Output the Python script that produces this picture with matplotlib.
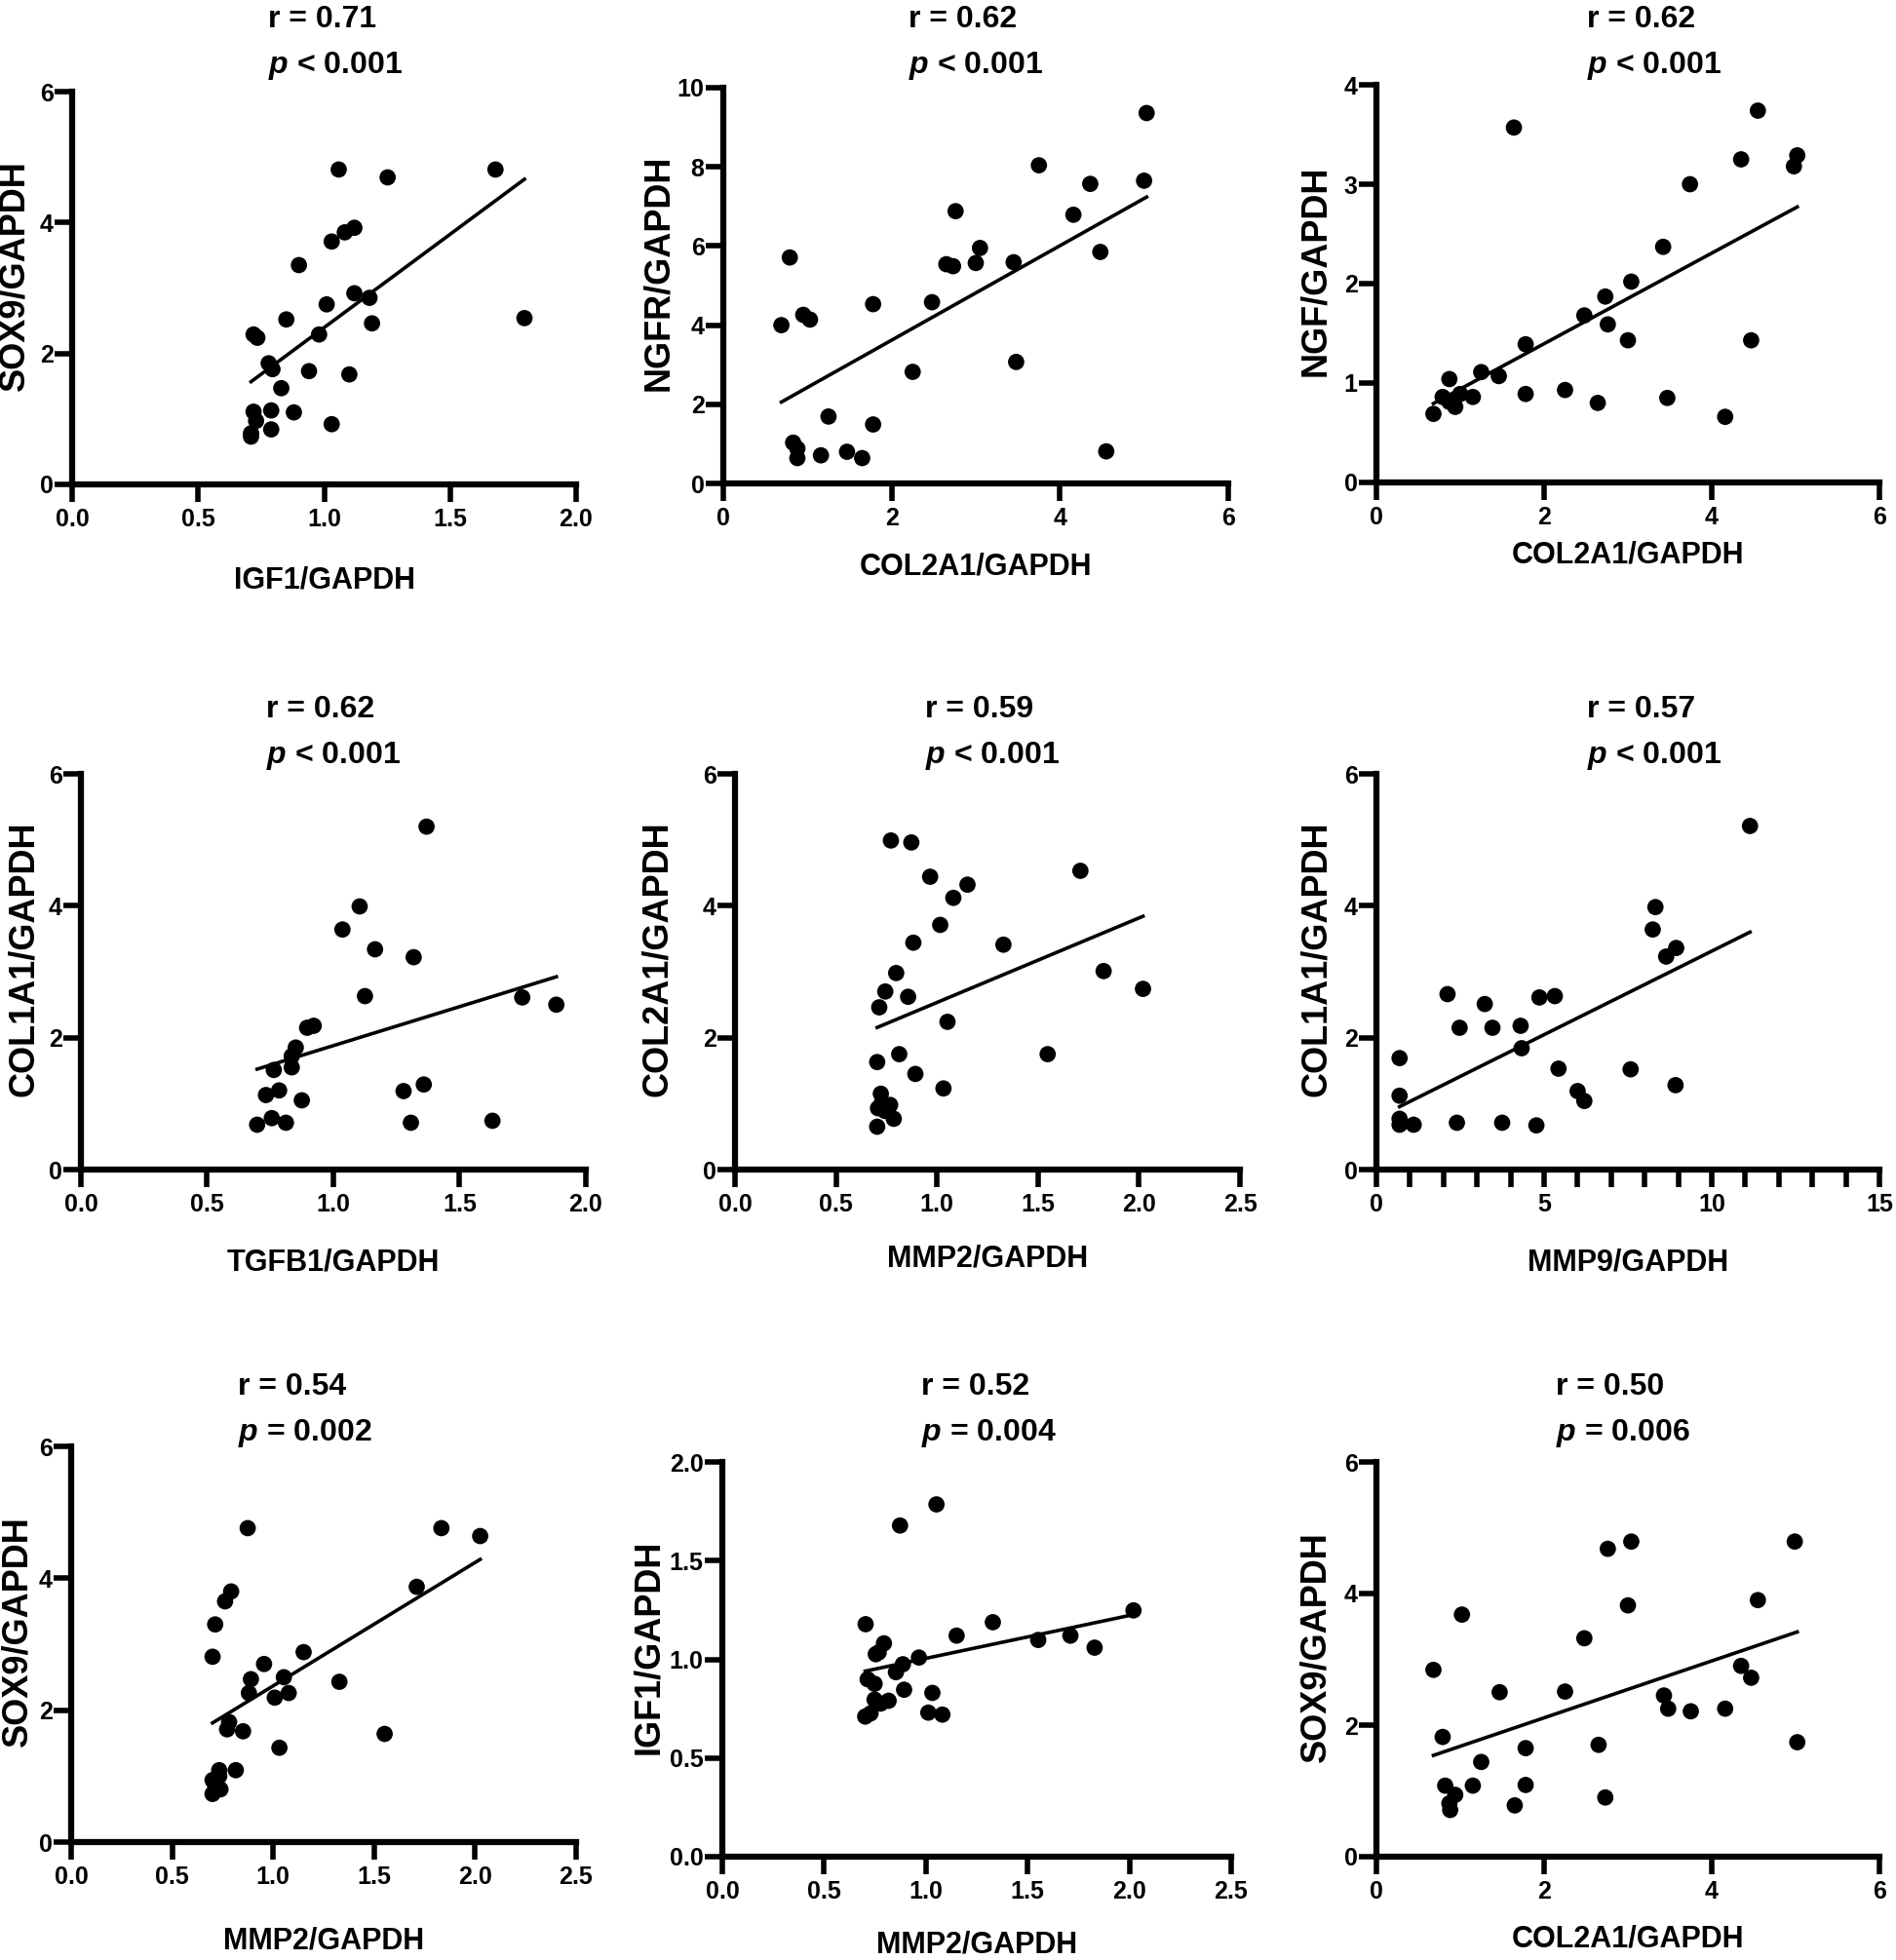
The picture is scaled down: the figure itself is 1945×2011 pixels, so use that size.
import numpy as np
import matplotlib
matplotlib.use('Agg')
import matplotlib.pyplot as plt
from matplotlib import font_manager
from matplotlib.ticker import MultipleLocator, FormatStrFormatter


def has_font(name):
    try:
        font_manager.findfont(font_manager.FontProperties(family=name, weight='bold'),
                              fallback_to_default=False)
        return True
    except ValueError:
        return False


NARROW = has_font('Liberation Sans Narrow')
WIDE = 'Liberation Sans'
COND = 'Liberation Sans Narrow' if NARROW else WIDE
TICK_FS = 20 if NARROW else 18
XLAB_FS = 26.5 if NARROW else 22

plt.rcParams['font.family'] = [WIDE, 'DejaVu Sans']
plt.rcParams['font.weight'] = 'bold'
plt.rcParams['mathtext.fontset'] = 'custom'
plt.rcParams['mathtext.it'] = f'{WIDE}:italic:bold'
plt.rcParams['mathtext.rm'] = f'{WIDE}:bold'

# ---- data ----
p1_x = [1.058, 1.252, 1.68, 1.795, 1.12, 1.082, 1.03, 0.90, 1.12, 1.18, 1.01, 1.19, 0.85, 0.98, 0.72,
        0.735, 0.78, 0.795, 0.94, 1.10, 0.83, 0.79, 0.88, 0.72, 0.73, 1.03, 0.79, 0.71, 0.71]
p1_y = [4.81, 4.69, 4.81, 2.54, 3.92, 3.85, 3.71, 3.35, 2.92, 2.85, 2.75, 2.46, 2.52, 2.29, 2.29,
        2.24, 1.85, 1.76, 1.73, 1.68, 1.47, 1.13, 1.10, 1.11, 0.97, 0.92, 0.84, 0.78, 0.73]

p2_x = [5.03, 3.75, 4.36, 5.0, 2.76, 4.16, 3.05, 4.48, 2.65, 2.73, 3.00, 3.45, 0.79, 1.78, 2.48,
        0.95, 1.03, 0.69, 3.48, 2.25, 1.25, 1.78, 0.83, 0.88, 0.88, 1.16, 1.47, 1.65, 4.55]
p2_y = [9.36, 8.04, 7.57, 7.65, 6.88, 6.79, 5.95, 5.85, 5.54, 5.49, 5.57, 5.59, 5.71, 4.53, 4.58,
        4.26, 4.14, 4.0, 3.07, 2.82, 1.69, 1.49, 1.03, 0.88, 0.64, 0.71, 0.80, 0.64, 0.81]

p3_x = [1.64, 4.55, 4.35, 5.02, 4.98, 3.74, 3.42, 3.04, 2.73, 2.48, 2.76, 3.0, 4.47, 1.78, 1.25,
        1.46, 0.87, 2.25, 1.78, 1.15, 1.0, 0.79, 0.87, 0.94, 3.47, 2.64, 4.16, 0.68]
p3_y = [3.57, 3.74, 3.25, 3.29, 3.18, 3.0, 2.37, 2.02, 1.87, 1.68, 1.59, 1.43, 1.43, 1.39, 1.11,
        1.07, 1.04, 0.93, 0.89, 0.86, 0.89, 0.86, 0.81, 0.76, 0.85, 0.80, 0.66, 0.69]

p4_x = [1.369, 1.104, 1.036, 1.165, 1.318, 1.125, 1.748, 1.883, 0.896, 0.922, 0.851, 0.835,
        0.835, 0.764, 0.785, 0.733, 0.875, 1.278, 1.358, 0.756, 0.812, 1.307, 1.63, 0.698]
p4_y = [5.20, 3.99, 3.64, 3.34, 3.22, 2.63, 2.61, 2.50, 2.15, 2.18, 1.85, 1.72,
        1.55, 1.51, 1.20, 1.13, 1.05, 1.19, 1.29, 0.78, 0.71, 0.71, 0.74, 0.68]

p5_x = [0.772, 0.873, 0.966, 1.151, 1.081, 1.71, 1.016, 0.883, 1.329, 0.798, 1.825, 0.744, 0.857, 2.02,
        0.714, 1.052, 0.813, 1.548, 0.704, 0.893, 1.032, 0.722, 0.708, 0.768, 0.742, 0.786, 0.704, 0.728]
p5_y = [4.99, 4.96, 4.44, 4.32, 4.12, 4.53, 3.71, 3.44, 3.41, 2.98, 3.01, 2.70, 2.62, 2.74,
        2.46, 2.24, 1.75, 1.75, 1.63, 1.45, 1.23, 1.15, 0.93, 0.98, 0.89, 0.77, 0.65, 1.02]

p6_x = [11.14, 8.32, 8.24, 8.64, 8.94, 2.12, 3.23, 4.86, 5.32, 2.48, 3.46, 4.30, 4.33, 0.69, 5.43,
        7.58, 6.0, 6.2, 8.92, 0.69, 0.69, 0.69, 1.11, 2.40, 3.75, 4.77]
p6_y = [5.21, 3.98, 3.64, 3.23, 3.36, 2.66, 2.51, 2.61, 2.63, 2.15, 2.15, 2.18, 1.84, 1.69, 1.53,
        1.52, 1.19, 1.04, 1.28, 1.12, 0.77, 0.68, 0.68, 0.71, 0.71, 0.67]

p7_x = [0.874, 1.833, 2.025, 1.711, 0.792, 0.762, 0.713, 0.700, 1.151, 0.955, 0.890, 1.053, 1.328, 0.880,
        1.077, 1.008, 0.782, 0.772, 0.851, 1.552, 1.031, 0.815, 0.733, 0.700, 0.713, 0.739, 0.700, 0.733]
p7_y = [4.76, 4.76, 4.64, 3.87, 3.80, 3.65, 3.30, 2.81, 2.88, 2.70, 2.47, 2.50, 2.43, 2.26,
        2.26, 2.19, 1.82, 1.71, 1.68, 1.64, 1.43, 1.09, 1.09, 0.94, 0.86, 0.80, 0.73, 1.00]

p8_x = [1.052, 0.873, 2.02, 1.329, 0.704, 1.151, 1.71, 1.552, 1.829, 0.794, 0.754, 0.768, 0.966,
        0.887, 0.853, 0.714, 0.748, 0.893, 1.032, 0.748, 0.817, 0.778, 1.012, 1.081, 0.728, 0.702]
p8_y = [1.785, 1.678, 1.248, 1.188, 1.178, 1.12, 1.12, 1.098, 1.059, 1.081, 1.026, 1.035, 1.009,
        0.975, 0.935, 0.899, 0.876, 0.846, 0.830, 0.796, 0.790, 0.776, 0.730, 0.720, 0.726, 0.710]

p9_x = [3.04, 4.99, 2.76, 3.0, 4.55, 1.02, 2.48, 0.68, 4.35, 4.47, 1.47, 2.25, 3.43, 3.48, 3.75,
        4.16, 0.79, 2.65, 1.78, 5.02, 1.25, 0.82, 1.15, 1.78, 0.94, 0.87, 0.88, 1.65, 2.73]
p9_y = [4.79, 4.79, 4.68, 3.82, 3.90, 3.68, 3.32, 2.84, 2.90, 2.72, 2.50, 2.51, 2.45, 2.25, 2.21,
        2.25, 1.82, 1.70, 1.65, 1.74, 1.44, 1.08, 1.08, 1.09, 0.94, 0.81, 0.71, 0.78, 0.90]

x_data = [p1_x, p2_x, p3_x, p4_x, p5_x, p6_x, p7_x, p8_x, p9_x]
y_data = [p1_y, p2_y, p3_y, p4_y, p5_y, p6_y, p7_y, p8_y, p9_y]

x_labels = ['IGF1/GAPDH', 'COL2A1/GAPDH', 'COL2A1/GAPDH', 'TGFB1/GAPDH', 'MMP2/GAPDH',
            'MMP9/GAPDH', 'MMP2/GAPDH', 'MMP2/GAPDH', 'COL2A1/GAPDH']
y_labels = ['SOX9/GAPDH', 'NGFR/GAPDH', 'NGF/GAPDH', 'COL1A1/GAPDH', 'COL2A1/GAPDH',
            'COL1A1/GAPDH', 'SOX9/GAPDH', 'IGF1/GAPDH', 'SOX9/GAPDH']
r_values = ['0.71', '0.62', '0.62', '0.62', '0.59', '0.57', '0.54', '0.52', '0.50']
p_values = ['< 0.001', '< 0.001', '< 0.001', '< 0.001', '< 0.001', '< 0.001',
            '= 0.002', '= 0.004', '= 0.006']

# axis ranges and tick steps
x_max = [2.0, 6, 6, 2.0, 2.5, 15, 2.5, 2.5, 6]
x_step = [0.5, 2, 2, 0.5, 0.5, 5, 0.5, 0.5, 2]
y_max = [6, 10, 4, 6, 6, 6, 6, 2.0, 6]
y_step = [2, 2, 1, 2, 2, 2, 2, 0.5, 2]

# ---- layout (pixels in a 1945 x 2011 canvas) ----
W, H = 1945, 2011
boxes = [(74, 591, 94, 497), (742, 1260, 90, 496), (1412, 1928, 87, 495),
         (83, 601, 794, 1200), (754, 1272, 794, 1200), (1412, 1928, 794, 1200),
         (73, 591, 1484, 1890), (741, 1263, 1500, 1905), (1412, 1928, 1500, 1905)]
title_left = [275, 932, 1628, 273, 949, 1628, 244, 945, 1596]
title_base = [(28, 75), (28, 75), (28, 75), (736, 783), (736, 783), (736, 783),
              (1431, 1478), (1431, 1478), (1431, 1478)]
xlab_base = [603, 589, 577, 1303, 1299, 1304, 1999, 2004, 1997]
ylab_x = [15, 676, 1350, 25, 674, 1350, 18, 666, 1350]

fig = plt.figure(figsize=(W / 100, H / 100), dpi=100)

for i in range(9):
    l, r, t, b = boxes[i]
    ax = fig.add_axes([l / W, 1 - b / H, (r - l) / W, (b - t) / H])
    x = np.array(x_data[i])
    y = np.array(y_data[i])

    slope, intercept = np.polyfit(x, y, 1)
    xs = np.array([x.min(), x.max()])
    ax.plot(xs, intercept + slope * xs, color='black', lw=2.6, zorder=2)
    ax.scatter(x, y, s=145, color='black', edgecolors='none', zorder=3, clip_on=False)

    ax.set_xlim(0, x_max[i])
    ax.set_ylim(0, y_max[i])
    ax.xaxis.set_major_locator(MultipleLocator(x_step[i]))
    ax.yaxis.set_major_locator(MultipleLocator(y_step[i]))
    if x_step[i] < 1:
        ax.xaxis.set_major_formatter(FormatStrFormatter('%.1f'))
    if y_step[i] < 1:
        ax.yaxis.set_major_formatter(FormatStrFormatter('%.1f'))
    if x_max[i] == 15:
        ax.xaxis.set_minor_locator(MultipleLocator(1))

    for side in ['top', 'right']:
        ax.spines[side].set_visible(False)
    for side in ['left', 'bottom']:
        ax.spines[side].set_linewidth(4.5)

    ax.tick_params(axis='both', which='both', direction='out', length=13, width=4, color='black')
    ax.tick_params(axis='x', pad=4)
    ax.tick_params(axis='y', pad=1)
    for lab in ax.get_xticklabels() + ax.get_yticklabels():
        lab.set_fontfamily([COND, WIDE])
        lab.set_fontsize(TICK_FS)
        lab.set_fontweight('bold')

    # titles, two left-aligned lines
    fig.text(title_left[i] / W, 1 - title_base[i][0] / H, f'r = {r_values[i]}',
             ha='left', va='baseline', fontsize=23, fontweight='bold')
    fig.text(title_left[i] / W, 1 - title_base[i][1] / H, f'$p$ {p_values[i]}',
             ha='left', va='baseline', fontsize=23, fontweight='bold')

    fig.text((l + r) / 2 / W, 1 - xlab_base[i] / H, x_labels[i], ha='center', va='baseline',
             fontsize=XLAB_FS, fontweight='bold', family=[COND, WIDE])
    fig.text(ylab_x[i] / W, 1 - ((t + b) / 2 - 13) / H, y_labels[i], ha='center', va='center',
             rotation=90, fontsize=26, fontweight='bold')

fig.savefig('out.png', dpi=100, facecolor='white')
